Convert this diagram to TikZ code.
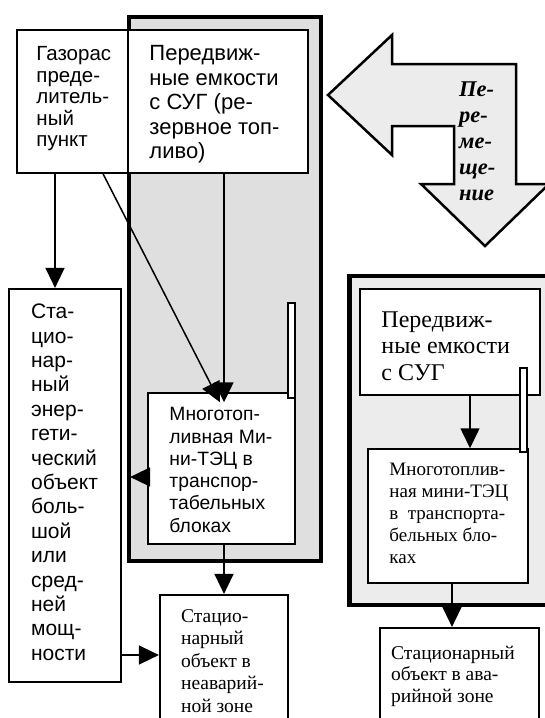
\documentclass[tikz,border=0pt]{standalone}
\usepackage{fontspec}
\setmainfont{Liberation Serif}
\setsansfont{Liberation Sans}
\usetikzlibrary{arrows.meta, positioning}

\begin{document}
\begin{tikzpicture}[x=1pt, y=-1pt,
    box/.style={draw, line width=1.5pt, fill=white, inner sep=0pt},
    panel/.style={draw, line width=4.5pt},
    bar/.style={draw, line width=1.2pt, fill=white},
    conn/.style={line width=1.5pt, -{Triangle[length=20pt,width=19pt]}},
    txt/.style={inner sep=0pt, align=left}]
    \useasboundingbox (0,0) rectangle (545,718);
    \clip (0,0) rectangle (545,718);

    % gray panels
    \draw[panel, fill=gray!25] (129,17) rectangle (321,561);
    \draw[panel, fill=gray!15] (349.5,276) rectangle (570,605);

    % moving arrow
    \draw[line width=2.5pt, fill=gray!15] (328,95) -- (392,35) -- (392,64) -- (516,64) -- (516,184)
        -- (549,184) -- (485,246) -- (421,184) -- (454,184) -- (454,126) -- (392,126) -- (392,155) -- cycle;
    \node[txt, anchor=north west, font={\bfseries\itshape\fontsize{22.5}{26}\selectfont}] (move) at (459,82)
        {Пе-\\ре-\\ме-\\ще-\\ние};

    % boxes
    \node[box, minimum width=111pt, minimum height=143pt] (gdp) at (72.5,101.5) {};
    \node[box, minimum width=180pt, minimum height=143pt] (pe1) at (218,101.5) {};
    \node[box, line width=2.2pt, minimum width=112pt, minimum height=393pt] (bigobj) at (65,485.5) {};
    \node[box, minimum width=147pt, minimum height=151pt] (mtec) at (221.5,468.5) {};
    \node[box, line width=2.2pt, minimum width=128pt, minimum height=145pt] (stac) at (224,667.5) {};
    \node[box, minimum width=180pt, minimum height=106pt] (pe2) at (450,342) {};
    \node[box, minimum width=160pt, minimum height=134pt] (mtec2) at (448,516) {};
    \node[box, line width=2.2pt, minimum width=159pt, minimum height=112pt] (stac2) at (459.5,684) {};

    \draw[bar] (288,303) rectangle (295,398);
    \draw[bar] (520,368) rectangle (527,452);

    % texts
    \node[txt, below right=17pt and 20pt of gdp.north west, font={\sffamily\fontsize{20.5}{21.5}\selectfont}] (gdptxt)
        {Газорас\\преде-\\литель-\\ный\\пункт};
    \node[txt, below right=16pt and 22pt of pe1.north west, font={\sffamily\fontsize{22}{24.5}\selectfont}] (pe1txt)
        {Передвиж-\\ные емкости\\с СУГ (ре-\\зервное топ-\\ливо)};
    \node[txt, below right=16pt and 23pt of bigobj.north west, font={\sffamily\fontsize{21}{24.4}\selectfont}] (bigtxt)
        {Ста-\\цио-\\нар-\\ный\\энер-\\гети-\\ческий\\объект\\боль-\\шой\\или\\сред-\\ней\\мощ-\\ности};
    \node[txt, below right=15pt and 22pt of mtec.north west, font={\sffamily\fontsize{19.3}{22.3}\selectfont}] (mtectxt)
        {Многотоп-\\ливная Ми-\\ни-ТЭЦ в\\транспор-\\табельных\\блоках};
    \node[txt, below right=15pt and 22pt of stac.north west, font={\fontsize{19.5}{22.5}\selectfont}] (stactxt)
        {Стацио-\\нарный\\объект в\\неаварий-\\ной зоне};
    \node[txt, below right=23pt and 22pt of pe2.north west, font={\fontsize{24}{26.5}\selectfont}] (pe2txt)
        {Передвиж-\\ные емкости\\с СУГ};
    \node[txt, below right=15pt and 22pt of mtec2.north west, font={\fontsize{19}{22}\selectfont}] (mtec2txt)
        {Многотоплив-\\ная мини-ТЭЦ\\в~ транспорта-\\бельных бло-\\ках};
    \node[txt, below right=19pt and 12pt of stac2.north west, font={\fontsize{19.5}{21.5}\selectfont}] (stac2txt)
        {Стационарный\\объект в ава-\\рийной зоне};

    % connectors
    \coordinate (lvl) at (0,655);
    \draw[conn] ([xshift=-17.5pt]gdp.south) -- ([xshift=-17.5pt]gdp.south |- bigobj.north);
    \draw[conn] ([xshift=30.5pt]gdp.south) -- ([xshift=-1.5pt,yshift=-10pt]mtec.north);
    \draw[conn, shorten >=-10pt] ([xshift=6pt]pe1.south) -- ([xshift=6pt]pe1.south |- mtec.north);
    \draw[conn, shorten >=8pt] ([yshift=-8.5pt]mtec.west) -- ([yshift=-8.5pt]mtec.west -| bigobj.east);
    \draw[conn] ([xshift=2.5pt]mtec.south) -- (stac.north);
    \draw[conn] (bigobj.east |- lvl) -- (stac.west |- lvl);
    \draw[conn] ([xshift=20pt]pe2.south) -- ([xshift=20pt]pe2.south |- mtec2.north);
    \draw[conn] ([xshift=4pt]mtec2.south) -- ([xshift=4pt]mtec2.south |- stac2.north);
\end{tikzpicture}
\end{document}
